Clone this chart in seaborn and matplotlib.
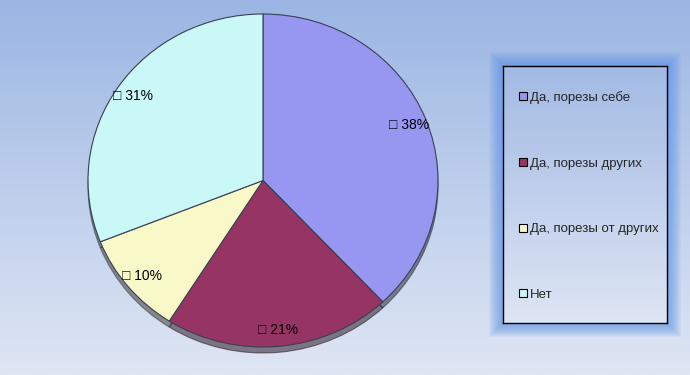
import numpy as np
import matplotlib
matplotlib.use("Agg")
import matplotlib.pyplot as plt
import seaborn as sns
from matplotlib.patches import Rectangle
from matplotlib.lines import Line2D

categories = ["Да, порезы себе", "Да, порезы других", "Да, порезы от других", "Нет"]
values = [38, 21, 10, 31]
slice_colors = ["#9797F2", "#963464", "#F9F8C9", "#C9F8F7"]

sns.set_style("white")
plt.rcParams['font.family'] = ['Liberation Sans', 'DejaVu Sans']

fig = plt.figure(figsize=(6.9, 3.75), dpi=100)

# background gradient
bg = fig.add_axes([0, 0, 1, 1], zorder=-10)
grad = np.linspace(0, 1, 256).reshape(-1, 1)
top = np.array([155, 182, 227]) / 255
bot = np.array([223, 230, 244]) / 255
img = top[None, None, :] * (1 - grad[:, :, None]) + bot[None, None, :] * grad[:, :, None]
bg.imshow(img, aspect='auto', extent=[0, 1, 0, 1], origin='upper')
bg.set_axis_off()

# pie
ax = fig.add_axes([88/690, (375-347)/375, 350/690, 333/375])
wedges, texts, autotexts = ax.pie(
    values, colors=slice_colors, startangle=90, counterclock=False,
    autopct=lambda p: "\u25a1 %d%%" % round(p), pctdistance=0.9,
    wedgeprops=dict(edgecolor="#3a3f55", linewidth=0.8),
    shadow=dict(ox=0.0, oy=-0.026, shade=0.8),
    textprops=dict(fontsize=10, color="black"))
ax.set_aspect('auto')
ax.set_xlim(-1, 1)
ax.set_ylim(-1, 1)
ax.set_axis_off()

# legend frame with soft glow
x0, x1 = 503/690, 667/690
y1, y0 = 1 - 66/375, 1 - 323/375
for i in range(14, 0, -1):
    px = i / 690
    py = i / 375
    fig.patches.append(Rectangle((x0 - px, y0 - py), (x1 - x0) + 2*px, (y1 - y0) + 2*py,
                                 transform=fig.transFigure, facecolor="#5b93e8",
                                 edgecolor='none', alpha=0.07, zorder=1))
# inner fill gradient
lg = fig.add_axes([x0, y0, x1 - x0, y1 - y0], zorder=2)
top2 = np.array([162, 186, 228]) / 255
bot2 = np.array([222, 229, 244]) / 255
img2 = top2[None, None, :] * (1 - grad[:, :, None]) + bot2[None, None, :] * grad[:, :, None]
lg.imshow(img2, aspect='auto', extent=[0, 1, 0, 1], origin='upper')
lg.set_xticks([]); lg.set_yticks([])
for s in lg.spines.values():
    s.set_color("black"); s.set_linewidth(1.0)

handles = [Line2D([], [], linestyle='none', marker='s', markersize=5.5,
                  markerfacecolor=c, markeredgecolor='black', markeredgewidth=0.8)
           for c in slice_colors]
leg = fig.legend(handles, categories, loc='upper left',
                 bbox_to_anchor=(519/690, 1 - 91/375), frameon=False,
                 fontsize=9.5, labelspacing=4.05, handlelength=0.6,
                 handletextpad=0.2, borderaxespad=0, borderpad=0)
leg.set_zorder(5)

fig.savefig("out.png", dpi=100)
